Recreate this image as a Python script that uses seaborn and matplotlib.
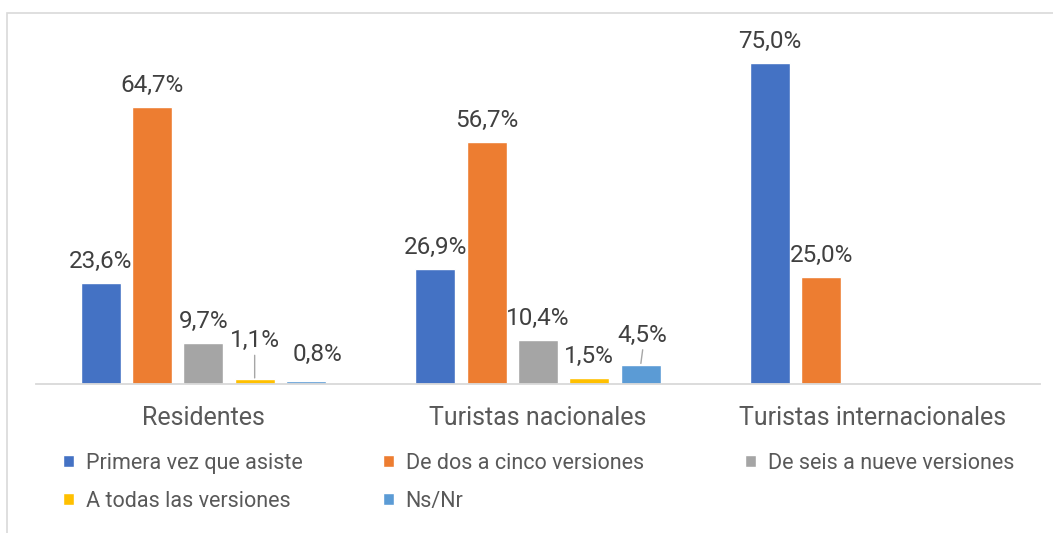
import seaborn as sns
import matplotlib.pyplot as plt
import pandas as pd
from matplotlib.patches import Patch, Rectangle

categories = ['Residentes', 'Turistas nacionales', 'Turistas internacionales']
series = ['Primera vez que asiste', 'De dos a cinco versiones',
          'De seis a nueve versiones', 'A todas las versiones', 'Ns/Nr']
colors = ['#4472C4', '#ED7D31', '#A5A5A5', '#FFC000', '#5B9BD5']

residentes = [23.6, 64.7, 9.7, 1.1, 0.8]
nacionales = [26.9, 56.7, 10.4, 1.5, 4.5]
internacionales = [75.0, 25.0, None, None, None]

rows = []
for cat, vals in zip(categories, [residentes, nacionales, internacionales]):
    for s, v in zip(series, vals):
        if v is not None:
            rows.append({'grupo': cat, 'serie': s, 'valor': v})
df = pd.DataFrame(rows)

sns.set_style('white')
plt.rcParams['font.family'] = ['Roboto', 'DejaVu Sans']

fig = plt.figure(figsize=(10.53, 5.33), dpi=100)
ax = fig.add_axes([36 / 1053, 149 / 533, 1004 / 1053, 342 / 533])

sns.barplot(data=df, x='grupo', y='valor', hue='serie', order=categories,
            hue_order=series, palette=colors, width=0.767, gap=0.22,
            saturation=1, ax=ax, legend=False, errorbar=None)

ax.set_xlim(-0.5, 2.5)
ax.set_ylim(0, 80)
ax.set_xlabel('')
ax.set_ylabel('')
ax.set_yticks([])
for side in ['top', 'left', 'right']:
    ax.spines[side].set_visible(False)
ax.spines['bottom'].set_color('#D9D9D9')
ax.spines['bottom'].set_linewidth(1.3)
ax.tick_params(axis='x', length=0, pad=16, labelsize=18, labelcolor='#595959')

# labels (offsets in pixels); a few are nudged and get a leader line
px = 0.72
nudges = {(0, 3): (0, 17), (0, 4): (11, 5), (1, 4): (2, 8)}
leaders = {(0, 3), (1, 4)}
for si, cont in enumerate(ax.containers):
    for bar in cont:
        h = bar.get_height()
        if not h or h != h:
            continue
        xc = bar.get_x() + bar.get_width() / 2
        ci = int(round(xc))
        dx, dy = nudges.get((ci, si), (0, 0))
        txt = f'{h:.1f}%'.replace('.', ',')
        ax.annotate(txt, (xc, h), xytext=(dx * px, (15 + dy) * px),
                    textcoords='offset points', ha='center', va='baseline',
                    fontsize=17.5, color='#404040')
        if (ci, si) in leaders:
            ax.annotate('', (xc, h), xytext=(dx * px, (7 + dy) * px),
                        textcoords='offset points',
                        arrowprops=dict(arrowstyle='-', color='#A6A6A6', lw=1,
                                        shrinkA=0, shrinkB=1))

handles = [Patch(facecolor=c) for c in colors]
legend_cols = [([0, 3], 63), ([1, 4], 383), ([2], 745)]
for idx, x0 in legend_cols:
    leg = fig.legend([handles[i] for i in idx], [series[i] for i in idx],
                     loc='upper left', bbox_to_anchor=(x0 / 1053, 1 - 453 / 533),
                     frameon=False, fontsize=15.5, labelcolor='#595959',
                     borderpad=0, borderaxespad=0,
                     handlelength=0.5, handleheight=0.5, handletextpad=0.55,
                     labelspacing=0.78)

fig.patches.append(Rectangle((7 / 1053, -0.1), 1.2, 1.1 - 13 / 533,
                             transform=fig.transFigure, fill=False,
                             edgecolor='#D9D9D9', lw=1.2))

fig.savefig('out.png', dpi=100)
